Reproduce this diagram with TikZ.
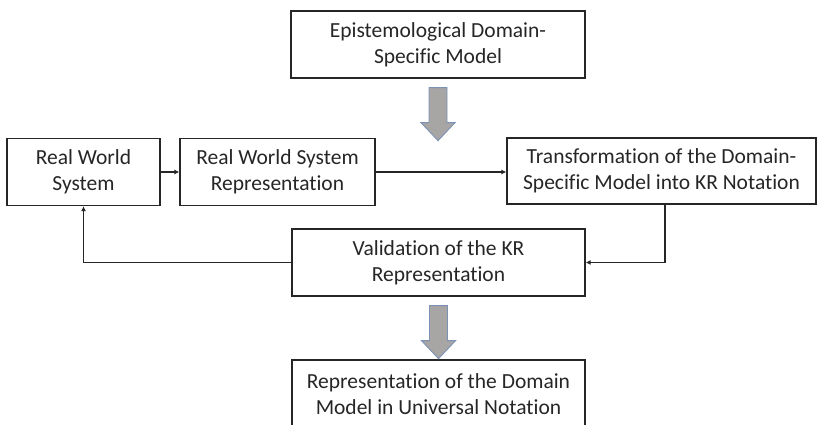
\documentclass[tikz,border=0pt]{standalone}
\usepackage{fontspec}
\setmainfont{Carlito}[Ligatures=NoCommon]
\usepackage{tikz}
\usetikzlibrary{arrows.meta,calc}

\definecolor{fatfill}{RGB}{168,165,165}
\definecolor{fatline}{RGB}{122,146,180}

\begin{document}
\begin{tikzpicture}[x=1pt, y=-1pt,
    box/.style={draw=black!85, line width=1.3pt, align=center, inner sep=0pt,
      font=\fontsize{21.5}{26}\selectfont, text=black!85},
    link/.style={draw=black!85, line width=1.1pt, -{Latex[length=5pt,width=5pt]}},
    fatarrow/.pic={
      \draw [fill=fatfill, draw=fatline, line width=0.9pt, line join=miter]
        (-9,0) -- (9,0) -- (9,35) -- (17,35) -- (0,53) -- (-17,35) -- (-9,35) -- cycle;
    }]
        \useasboundingbox (0,0) rectangle (817,425);

        \node [box, minimum width=294, minimum height=67] (epist) at (438,44.5)
          {Epistemological Domain-\\Specific Model};

        \node [box, minimum width=153, minimum height=67] (rws) at (83.5,172)
          {Real World\\System};
        \node [box, minimum width=195, minimum height=67] (rwsr) at (277.5,172)
          {Real World System\\Representation};
        \node [box, minimum width=309, minimum height=66] (transf) at (661.5,171)
          {Transformation of the Domain-\\Specific Model into KR Notation};

        \node [box, minimum width=293, minimum height=67] (valid) at (438.5,262.5)
          {Validation of the KR\\Representation};

        \node [box, minimum width=293, minimum height=68] (univ) at (438.5,394)
          {Representation of the Domain\\Model in Universal Notation};

        \pic at ($(epist.south)+(0,9)$) {fatarrow};
        \pic at ($(valid.south)+(0,9)$) {fatarrow};

        \draw [link] (rws.east) -- (rwsr.west);
        \draw [link] (rwsr.east) -- (rwsr.east -| transf.west);
        \draw [link] ([xshift=3.5pt]transf.south) |- (valid.east);
        \draw [link] (valid.west) -| (rws.south);
\end{tikzpicture}
\end{document}
